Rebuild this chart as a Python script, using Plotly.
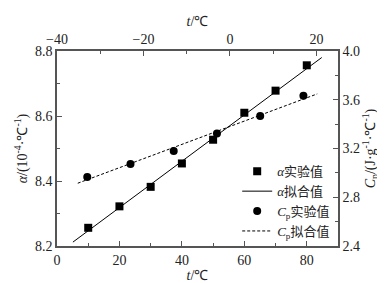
import plotly.graph_objects as go

# Thermal expansion coefficient alpha (bottom axis t, left axis)
alpha_t = [10, 20, 30, 40, 50, 60, 70, 80]
alpha_vals = [8.256, 8.322, 8.382, 8.454, 8.527, 8.610, 8.678, 8.756]
alpha_fit_t = [5.1, 84.8]
alpha_fit_vals = [8.212, 8.780]

# Specific heat Cp (top axis t, right axis)
cp_t = [-33, -23, -13, -3, 7, 17]
cp_vals = [2.967, 3.073, 3.180, 3.323, 3.466, 3.632]
cp_fit_t = [-35.2, 20.2]
cp_fit_vals = [2.915, 3.648]

serif = "Liberation Serif"
cjk = "Noto Sans CJK SC"

def zh(s):
    return f"<span style='font-family:{cjk}'>{s}</span>"

fig = go.Figure()
fig.add_trace(go.Scatter(x=alpha_t, y=alpha_vals, mode="markers",
                         marker=dict(symbol="square", size=8, color="black"),
                         name="<i>α</i>" + zh("实验值"), xaxis="x", yaxis="y"))
fig.add_trace(go.Scatter(x=alpha_fit_t, y=alpha_fit_vals, mode="lines",
                         line=dict(color="black", width=1),
                         name="<i>α</i>" + zh("拟合值"), xaxis="x", yaxis="y"))
fig.add_trace(go.Scatter(x=cp_t, y=cp_vals, mode="markers",
                         marker=dict(symbol="circle", size=8, color="black"),
                         name="<i>C</i><sub>p</sub>" + zh("实验值"), xaxis="x2", yaxis="y2"))
fig.add_trace(go.Scatter(x=cp_fit_t, y=cp_fit_vals, mode="lines",
                         line=dict(color="black", width=1, dash="3px,2px"),
                         name="<i>C</i><sub>p</sub>" + zh("拟合值"), xaxis="x2", yaxis="y2"))

axcol = "#555"
common = dict(showline=True, linecolor=axcol, linewidth=1.5, ticks="inside",
              ticklen=5, tickcolor=axcol, showgrid=False, zeroline=False,
              tickfont=dict(family=serif, size=14, color="#222"))

fig.update_layout(
    width=385, height=283,
    margin=dict(l=49, r=55, t=40, b=38),
    paper_bgcolor="white", plot_bgcolor="white",
    font=dict(family=serif, size=14, color="#222"),
    showlegend=True,
    legend=dict(x=0.99, y=0.46, xanchor="right", yanchor="top",
                bgcolor="rgba(0,0,0,0)", font=dict(size=13, family=serif),
                tracegroupgap=0, itemwidth=30),
    xaxis=dict(range=[0, 90], dtick=20, tick0=0,
               title=dict(text="<i>t</i>/℃", standoff=2, font=dict(size=14)),
               minor=dict(ticks="inside", ticklen=3, tickcolor=axcol, dtick=10),
               **common),
    xaxis2=dict(range=[-40, 25], dtick=20, tick0=-40, overlaying="x", side="top",
                title=dict(text="<i>t</i>/℃", standoff=2, font=dict(size=14)),
                minor=dict(ticks="inside", ticklen=3, tickcolor=axcol, dtick=10),
                **common),
    yaxis=dict(range=[8.2, 8.8], dtick=0.2, tick0=8.2, tickformat=".1f",
               title=dict(text="<i>α</i>/(10<sup>-4</sup>·℃<sup>-1</sup>)", standoff=4, font=dict(size=14)),
               minor=dict(ticks="inside", ticklen=3, tickcolor=axcol, dtick=0.1),
               **common),
    yaxis2=dict(range=[2.4, 4.0], dtick=0.4, tick0=2.4, tickformat=".1f",
                overlaying="y", side="right",
                title=dict(text="<i>C</i><sub>p</sub>/(J·g<sup>-1</sup>·℃<sup>-1</sup>)", standoff=4, font=dict(size=14)),
                minor=dict(ticks="inside", ticklen=3, tickcolor=axcol, dtick=0.2),
                **common),
)

fig.write_html("out.html")
